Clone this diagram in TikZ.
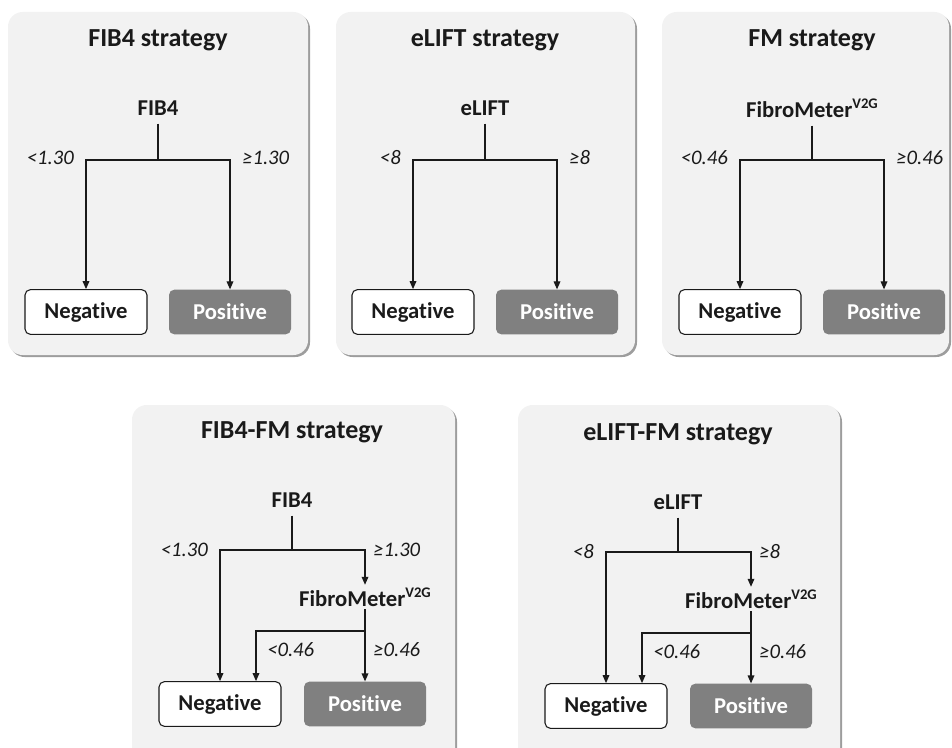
\documentclass[tikz,border=0pt]{standalone}
\usepackage{fontspec}
\setmainfont{Carlito}[Ligatures=NoCommon]
\usetikzlibrary{positioning,arrows.meta,shadows}
\definecolor{panelgray}{HTML}{F2F2F2}
\definecolor{posgray}{HTML}{808080}
\definecolor{inkgray}{HTML}{1A1A1A}
\tikzset{
  stratpanel/.style={fill=panelgray, rounded corners=11pt,
    drop shadow={shadow xshift=1.5pt, shadow yshift=-1.5pt, fill=black!55, opacity=.7}},
  strattitle/.style={font=\bfseries\fontsize{19.5}{23}\selectfont, text=inkgray},
  stratroot/.style={font=\bfseries\fontsize{17}{20}\selectfont, text=inkgray, inner sep=2pt},
  stratcut/.style={font=\itshape\fontsize{15.5}{18}\selectfont, text=inkgray, inner sep=0pt},
  resbox/.style={rounded corners=4pt, minimum width=91.5pt, minimum height=33.5pt,
    font=\bfseries\fontsize{17}{20}\selectfont},
  negbox/.style={resbox, draw=inkgray, line width=0.8pt, fill=white, text=inkgray},
  posbox/.style={resbox, fill=posgray, text=white},
  stratline/.style={line width=0.9pt, draw=inkgray},
  stratarrow/.style={stratline, -{Triangle[length=6pt,width=5pt]}},
}
\newcommand{\fmname}{FibroMeter\raisebox{0.8ex}{\fontsize{11}{12}\selectfont V2G}}

\begin{document}
\begin{tikzpicture}[x=0.75pt, y=-0.75pt]
  \useasboundingbox (0,0) rectangle (952,748);
  % one score, one cut-off
  \foreach \cx/\pl/\pr/\name/\ttl/\score/\lowcut/\highcut in {
      158/8/308/fib/FIB4 strategy/FIB4/{<1.30}/{≥1.30},
      485/336/635/elift/eLIFT strategy/eLIFT/{<8}/{≥8},
      812/662/949/fm/FM strategy/\fmname/{<0.46}/{≥0.46}} {
    \path[stratpanel] (\pl,12) rectangle (\pr,355);
    \node[strattitle] (\name-title) at (\cx,40) {\ttl};
    \node[stratroot] (\name-score) at (\cx,108) {\score};
    \coordinate (\name-split) at (\cx,160);
    \node[negbox] (\name-neg) at (\cx-72,312) {Negative};
    \node[posbox] (\name-pos) at (\cx+72,312) {Positive};
    \draw[stratline, shorten <=4pt] (\name-score) -- (\name-split);
    \draw[stratarrow] (\name-split) -| (\name-neg);
    \draw[stratarrow] (\name-split) -| (\name-pos);
    \node[stratcut, anchor=east] (\name-lo) at (\cx-84,158) {\lowcut};
    \node[stratcut, anchor=west] (\name-hi) at (\cx+84,158) {\highcut};
  }
  % first score, then FibroMeter for the rest
  \foreach \cx/\pl/\pr/\dy/\name/\ttl/\score/\lowcut/\highcut in {
      292/132/455/0/fibfm/FIB4-FM strategy/FIB4/{<1.30}/{≥1.30},
      678/518/840/2/eliftfm/eLIFT-FM strategy/eLIFT/{<8}/{≥8}} {
    \path[stratpanel] (\pl,405) rectangle (\pr,770);
    \node[strattitle] (\name-title) at (\cx,432+\dy) {\ttl};
    \node[stratroot] (\name-score) at (\cx,500+\dy) {\score};
    \coordinate (\name-split) at (\cx,550+\dy);
    \node[stratroot] (\name-fm) at (\cx+73,597+\dy) {\fmname};
    \coordinate (\name-fmsplit) at (\cx+73,631+\dy);
    \node[negbox] (\name-neg) at (\cx-72,704+\dy) {Negative};
    \node[posbox] (\name-pos) at (\cx+73,704+\dy) {Positive};
    \draw[stratline, shorten <=4pt] (\name-score) -- (\name-split);
    \draw[stratarrow] (\name-split) -| (\name-neg);
    \draw[stratarrow] (\name-split) -| (\name-fm);
    \draw[stratarrow] (\name-fm) -- (\name-pos);
    \draw[stratarrow] (\name-fmsplit) -| ([xshift=27pt]\name-neg.north);
    \node[stratcut, anchor=east] (\name-lo) at (\cx-84,550+\dy) {\lowcut};
    \node[stratcut, anchor=west] (\name-hi) at (\cx+81,550+\dy) {\highcut};
    \node[stratcut, anchor=west] (\name-fmlo) at (\cx-25,650+\dy) {<0.46};
    \node[stratcut, anchor=west] (\name-fmhi) at (\cx+81,650+\dy) {≥0.46};
  }
\end{tikzpicture}
\end{document}
